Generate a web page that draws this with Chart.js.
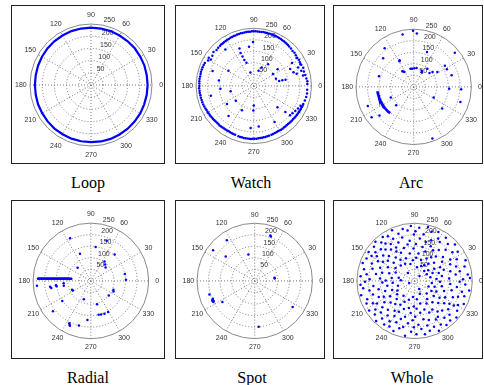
<!DOCTYPE html>
<html>
<head>
<meta charset="utf-8">
<script src="https://cdn.jsdelivr.net/npm/chart.js@4.4.1/dist/chart.umd.min.js"></script>
<style>
  body { margin: 0; background: #fff; width: 484px; height: 385px; position: relative; overflow: hidden; }
  .box { position: absolute; border: 1px solid #222; background: #fff; }
  .box canvas { display: block; }
  .cap { position: absolute; width: 120px; text-align: center; font-family: "Liberation Serif", "Times New Roman", serif;
         font-size: 16px; line-height: 18px; color: #000; }
</style>
</head>
<body>
<div id="page"></div>
<script>
// polar axis
const rMax = 250;
const ringTicks = [50, 100, 150, 200, 250];
const angleTicks = [0, 30, 60, 90, 120, 150, 180, 210, 240, 270, 300, 330];

// Loop
const loopTheta = [0,10,20,30,40,50,60,70,80,90,100,110,120,130,140,150,160,170,180,190,200,210,220,230,240,250,260,270,280,290,300,310,320,330,340,350,360];
const loopR = [232,232,233,233,234,234,234,235,235,235,235,235,234,234,233,232,231,230,230,230,231,231,232,233,233,234,234,234,235,235,234,234,233,233,232,232,232];

// Watch
const watchRingTheta = [2,5,8,12,16,20,24,27,30,33,36,39,42,45,48,
  50,52,54,56,58,60,62,64,66,68,70,72,74,76,78,80,82,84,86,88,90,92,94,96,98,100,102,104,106,108,110,112,114,116,118,120,122,124,126,128,130,
  133,136,140,144,148,151,
  155,157.5,160,162.5,165,167.5,170,172.5,175,177.5,180,182.5,185,187.5,190,192.5,195,197.5,200,202.5,205,
  207,209,211,213,215,217,219,221,223,225,227,229,231,233,235,237,239,241,243,245,247,249,
  253,255,257,259,261,263,265,267,269,271,273,275,277,279,281,283,285,287,
  290,292,294,296,298,300,302,304,306,308,310,312,314,316,318,320,322,324,326,328,330,332,334,336,338,340,
  344,348,352,356];
const watchRingR = [232,233,230,228,226,228,225,224,226,224,225,227,226,228,229,
  230,231,232,233,233,234,234,235,235,235,236,236,236,236,236,236,235,235,236,236,236,236,235,235,235,234,234,234,233,233,232,232,231,231,230,230,229,229,228,228,227,
  226,224,228,222,230,226,
  234,235,236,236,237,236,236,237,237,236,236,237,236,236,235,235,234,234,233,232,231,
  230,229,229,228,228,227,227,226,226,225,225,226,225,225,224,225,224,224,225,225,226,226,
  227,228,228,229,229,229,229,229,228,228,228,227,227,227,226,226,225,225,
  224,224,223,223,222,222,223,223,222,222,221,221,222,222,223,223,224,224,225,225,226,226,227,227,228,228,
  230,232,233,232];
const watchTheta = [111,112,111,110,107.5,97,91,149,171,185,193,193,214,219.5,244,270,269,277,265.7,320.6,318,72.6,66.7,56.5,32,35,18,11,11,11,25,19,15.7,22.5,17.7,12,24.8,31,33,148.4,321,325,329,333,337,104,128,160,230,300];
const watchR = [173,153,136,119,105,170,190,128,153,145,191,103,140,101,117,85,106,176,182,177,138,69,87,112,98,126,101,112,126,140,174,182,193,208,216,218,222,193,221,218,202,205,210,215,220,60,200,190,170,180];

// Arc
const arcTrailTheta = [187,190,193,196,199,202,205,208,211,214,217,220,223,226,228];
const arcTrailR = [158,158,157,157,157,156,156,156,155,155,155,154,154,153,153];
const arcTheta = [102,90.6,86.6,127,137,118,119,163,124,126,122,100,95,88,81,63,60,69,53,41,38,32,34,28,17,39.5,357,357,342,332,323,290,226.5,204.6,202.5,215.8,219.8];
const arcR = [231,242,231,209,181,130,127,157,80,84,76,80,79,80,82,77,72,161,98,91,104,121,163,163,172,231,154,206,213,98,155,237,110,109,215,225,193];

// Radial
const radialTrailTheta = [177.6,177.4,177.6,177.3,177.5,177.2,177.4,177.0,177.3,176.9,177.2,176.8,177.0,176.6,176.9,176.4,176.7,176.3,176.5,176.0,176.3,175.8,176.1,175.5,175.8,175.3,175.6,175.0,175.4,174.8,175.0,174.4,174.6,174.0,174.3,173.6,173.9];
const radialTrailR = [229,225,221,217,213,209,205,201,197,193,189,185,181,177,173,169,165,161,157,153,149,145,141,137,133,129,125,121,117,113,109,105,101,97,93,89,85];
const radialTheta = [116,112,135,82,68.5,48,55,49,42,11.6,2,338.5,335,321,285,249,208,205,215,218.7,190,188,187,189,185,190,185,244,243,245,255,265,283,287,292.6,299];
const radialR = [205,126,81,148,187,154,103,94,86,150,152,105,108,100,104,85,88,90,151,210,174,178,152,150,118,119,234,210,205,214,199,169,150,152,153,154];

// Spot
const spotTheta = [70,71,103.5,124.5,143.7,140,9,7,196.7,204,205,203,206,207,213,325.6,275];
const spotR = [204,208,117,213,224,164,87,87,205,200,203,197,198,201,167,199,199];

// Whole
const wholeTheta = [
  2,4,5,7,9,10,12,13,15,16,18,19,21,22,24,25,27,28,29,3,
  31,32,34,35,37,38,40,42,43,45,46,48,49,51,52,54,55,57,58,59,
  61,62,64,65,66,68,70,71,73,74,76,77,79,80,82,83,85,86,88,89,
  91,92,94,95,97,98,100,101,103,104,106,108,109,111,113,114,116,117,119,119,
  121,122,123,124,126,127,128,129,131,132,133,135,136,137,139,140,141,143,144,146,147,148,149,150,
  152,153,155,156,158,159,161,163,164,166,167,169,170,172,173,175,176,178,179,177,
  181,183,184,185,187,188,190,192,193,195,196,198,199,201,202,204,205,207,208,209,
  211,212,213,215,216,217,219,220,222,223,225,226,227,229,230,232,233,235,236,238,239,240,
  241,243,244,246,247,249,250,252,253,255,256,258,260,261,263,264,266,267,268,269,
  271,272,274,275,277,278,280,281,283,284,286,287,289,290,292,293,295,296,298,299,
  301,302,303,305,306,307,309,310,312,313,314,316,317,319,320,322,323,325,326,328,329,327,
  331,332,334,335,337,338,340,341,343,344,346,347,349,350,352,353,355,356,358,359,
  45,200,300,130];
const wholeR = [
  210,150,95,232,180,120,200,70,160,225,110,190,135,238,85,170,205,125,60,240,
  180,100,225,145,205,75,160,235,115,190,60,215,140,95,170,230,125,200,80,155,
  210,110,235,165,70,190,135,225,95,175,240,150,205,60,120,185,230,100,160,215,
  200,140,238,90,175,220,120,160,230,75,195,150,215,105,180,240,135,205,165,85,
  225,150,190,110,235,170,205,130,220,90,185,240,155,200,120,230,175,145,210,100,195,235,160,215,
  180,130,230,90,200,160,238,115,190,145,225,70,170,210,100,235,150,195,125,60,
  215,140,235,95,180,225,120,200,160,240,75,190,135,220,105,170,230,150,205,85,
  190,125,235,160,210,95,180,225,140,200,110,240,170,215,130,190,80,230,155,205,120,175,
  225,150,100,195,235,130,175,215,85,160,205,120,240,185,140,70,220,170,110,200,
  155,230,120,190,80,210,140,235,170,100,200,225,130,180,60,215,150,240,110,190,
  220,145,185,95,235,165,205,120,230,175,75,210,140,240,190,105,160,225,130,200,85,180,
  215,150,105,235,180,65,200,135,225,90,165,210,120,240,185,75,155,220,110,195,
  30,25,40,45];

const toXY = (theta, r) => theta.map((t, i) => ({
  x: r[i] * Math.cos(t * Math.PI / 180),
  y: r[i] * Math.sin(t * Math.PI / 180)
}));

const blue = '#0000ff';
const dots = (theta, r) => ({ data: toXY(theta, r), pointRadius: 1.25, pointBackgroundColor: blue, pointBorderWidth: 0, showLine: false });
const trail = (theta, r, w) => ({ data: toXY(theta, r), pointRadius: 0, borderColor: blue, borderWidth: w, showLine: true, tension: 0 });

// box: left, top, inner width, inner height; c: polar centre inside the box (px)
const panels = [
  { caption: 'Loop',   box: [11, 5, 152, 157],   c: [79, 79], sets: [trail(loopTheta, loopR, 2.2)] },
  { caption: 'Watch',  box: [175, 5, 148, 157],  c: [78, 80], sets: [dots(watchRingTheta, watchRingR), dots(watchTheta, watchR)] },
  { caption: 'Arc',    box: [333, 5, 148, 157],  c: [80, 81], sets: [trail(arcTrailTheta, arcTrailR, 2.6), dots(arcTheta, arcR)] },
  { caption: 'Radial', box: [11, 200, 152, 157], c: [79, 80], sets: [dots(radialTrailTheta, radialTrailR), dots(radialTheta, radialR)] },
  { caption: 'Spot',   box: [175, 200, 148, 157], c: [79, 80], sets: [dots(spotTheta, spotR)] },
  { caption: 'Whole',  box: [333, 200, 148, 157], c: [81, 80], sets: [dots(wholeTheta, wholeR)] }
];

const polarGrid = {
  id: 'polarGrid',
  beforeDatasetsDraw(chart) {
    const { ctx } = chart;
    const { x, y } = chart.scales;
    const cx = x.getPixelForValue(0), cy = y.getPixelForValue(0);
    const px = v => x.getPixelForValue(v) - cx;
    ctx.save();
    ctx.strokeStyle = '#7a7a7a';
    ctx.lineWidth = 1;
    ctx.setLineDash([1, 2]);
    ringTicks.slice(0, -1).forEach(v => {
      ctx.beginPath(); ctx.arc(cx, cy, px(v), 0, 2 * Math.PI); ctx.stroke();
    });
    angleTicks.slice(0, 6).forEach(a => {
      const rad = a * Math.PI / 180, R = px(rMax);
      ctx.beginPath();
      ctx.moveTo(cx - R * Math.cos(rad), cy + R * Math.sin(rad));
      ctx.lineTo(cx + R * Math.cos(rad), cy - R * Math.sin(rad));
      ctx.stroke();
    });
    ctx.setLineDash([]);
    ctx.strokeStyle = '#8a8a8a';
    ctx.beginPath(); ctx.arc(cx, cy, px(rMax), 0, 2 * Math.PI); ctx.stroke();

    ctx.fillStyle = '#333';
    ctx.font = '7px "Liberation Sans", Arial, sans-serif';
    ctx.textAlign = 'center'; ctx.textBaseline = 'middle';
    angleTicks.forEach(a => {
      const rad = a * Math.PI / 180, R = px(rMax * 1.15);
      ctx.fillText(String(a), cx + R * Math.cos(rad), cy - R * Math.sin(rad));
    });
    ctx.textAlign = 'left'; ctx.textBaseline = 'bottom';
    ringTicks.forEach(v => {
      const rad = 82 * Math.PI / 180, R = px(v + 2.5);
      ctx.fillText('  ' + v, cx + R * Math.cos(rad), cy - R * Math.sin(rad));
    });
    ctx.restore();
  }
};

const page = document.getElementById('page');
const upp = rMax / 61; // data units per pixel

panels.forEach(p => {
  const [left, top, w, h] = p.box;
  const box = document.createElement('div');
  box.className = 'box';
  box.style.cssText = `left:${left}px;top:${top}px;width:${w}px;height:${h}px`;
  const canvas = document.createElement('canvas');
  canvas.width = w; canvas.height = h;
  box.appendChild(canvas);
  page.appendChild(box);

  const cap = document.createElement('div');
  cap.className = 'cap';
  cap.textContent = p.caption;
  cap.style.left = (left + 1 + p.c[0] - 60 - 3) + 'px';
  cap.style.top = (top + h + 12) + 'px';
  page.appendChild(cap);

  new Chart(canvas.getContext('2d'), {
    type: 'scatter',
    data: { datasets: p.sets },
    options: {
      responsive: false,
      animation: false,
      events: [],
      layout: { padding: 0 },
      plugins: { legend: { display: false }, tooltip: { enabled: false } },
      scales: {
        x: { type: 'linear', display: false, min: -p.c[0] * upp, max: (w - p.c[0]) * upp },
        y: { type: 'linear', display: false, min: -(h - p.c[1]) * upp, max: p.c[1] * upp }
      }
    },
    plugins: [polarGrid]
  });
});
</script>
</body>
</html>
